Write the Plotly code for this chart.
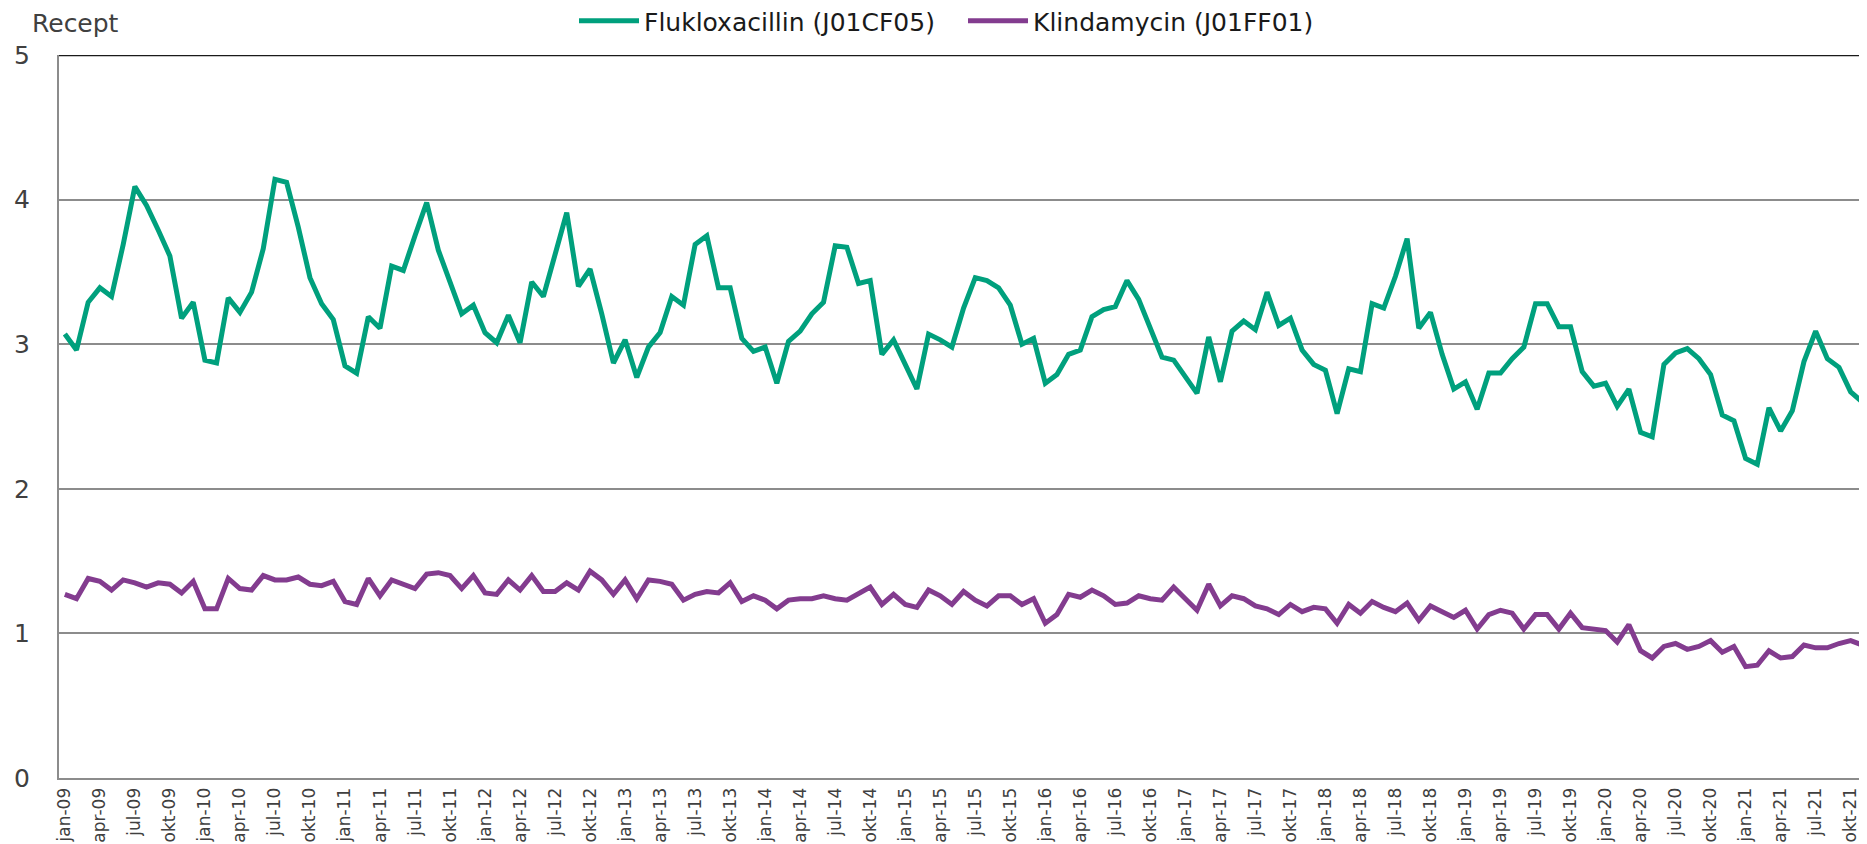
import plotly.graph_objects as go

month_names = ["jan", "feb", "mar", "apr", "maj", "jun", "jul", "aug", "sep", "okt", "nov", "dec"]
years = list(range(9, 22))
months = [f"{m}-{y:02d}" for y in years for m in month_names][:155]  # jan-09 .. nov-21

flukloxacillin = [
    3.07, 2.96, 3.29, 3.39, 3.33, 3.69, 4.09, 3.96, 3.79, 3.61, 3.18, 3.29,
    2.89, 2.87, 3.32, 3.22, 3.36, 3.66, 4.14, 4.12, 3.81, 3.46, 3.28, 3.17,
    2.85, 2.80, 3.19, 3.11, 3.54, 3.51, 3.75, 3.98, 3.65, 3.42, 3.21, 3.27,
    3.08, 3.01, 3.20, 3.01, 3.43, 3.33, 3.62, 3.91, 3.40, 3.52, 3.21, 2.87,
    3.03, 2.77, 2.98, 3.08, 3.33, 3.27, 3.69, 3.75, 3.39, 3.39, 3.04, 2.95,
    2.98, 2.73, 3.02, 3.09, 3.21, 3.29, 3.68, 3.67, 3.42, 3.44, 2.93, 3.03,
    2.86, 2.69, 3.07, 3.03, 2.98, 3.25, 3.46, 3.44, 3.39, 3.27, 3.00, 3.04,
    2.73, 2.79, 2.93, 2.96, 3.19, 3.24, 3.26, 3.44, 3.31, 3.11, 2.91, 2.89,
    2.78, 2.66, 3.05, 2.74, 3.09, 3.16, 3.10, 3.36, 3.13, 3.18, 2.96, 2.86,
    2.82, 2.52, 2.83, 2.81, 3.28, 3.25, 3.47, 3.73, 3.11, 3.22, 2.93, 2.69,
    2.74, 2.55, 2.80, 2.80, 2.90, 2.98, 3.28, 3.28, 3.12, 3.12, 2.81, 2.71,
    2.73, 2.57, 2.69, 2.39, 2.36, 2.86, 2.94, 2.97, 2.90, 2.79, 2.51, 2.47,
    2.21, 2.17, 2.56, 2.40, 2.54, 2.88, 3.09, 2.90, 2.84, 2.67, 2.60,
]

klindamycin = [
    1.27, 1.24, 1.38, 1.36, 1.30, 1.37, 1.35, 1.32, 1.35, 1.34, 1.28, 1.36,
    1.17, 1.17, 1.38, 1.31, 1.30, 1.40, 1.37, 1.37, 1.39, 1.34, 1.33, 1.36,
    1.22, 1.20, 1.38, 1.26, 1.37, 1.34, 1.31, 1.41, 1.42, 1.40, 1.31, 1.40,
    1.28, 1.27, 1.37, 1.30, 1.40, 1.29, 1.29, 1.35, 1.30, 1.43, 1.37, 1.27,
    1.37, 1.24, 1.37, 1.36, 1.34, 1.23, 1.27, 1.29, 1.28, 1.35, 1.22, 1.26,
    1.23, 1.17, 1.23, 1.24, 1.24, 1.26, 1.24, 1.23, 1.28, 1.32, 1.20, 1.27,
    1.20, 1.18, 1.30, 1.26, 1.20, 1.29, 1.23, 1.19, 1.26, 1.26, 1.20, 1.24,
    1.07, 1.13, 1.27, 1.25, 1.30, 1.26, 1.20, 1.21, 1.26, 1.24, 1.23, 1.32,
    1.24, 1.16, 1.34, 1.19, 1.26, 1.24, 1.19, 1.17, 1.13, 1.20, 1.15, 1.18,
    1.17, 1.07, 1.20, 1.14, 1.22, 1.18, 1.15, 1.21, 1.09, 1.19, 1.15, 1.11,
    1.16, 1.03, 1.13, 1.16, 1.14, 1.03, 1.13, 1.13, 1.03, 1.14, 1.04, 1.03,
    1.02, 0.94, 1.06, 0.88, 0.83, 0.91, 0.93, 0.89, 0.91, 0.95, 0.87, 0.91,
    0.77, 0.78, 0.88, 0.83, 0.84, 0.92, 0.90, 0.90, 0.93, 0.95, 0.92,
]

tick_labels = months[::3]
y_ticks = [0, 1, 2, 3, 4, 5]

FONT = "DejaVu Sans"
GREEN = "#00A07D"
PURPLE = "#833C8F"

fig = go.Figure()
fig.add_trace(go.Scatter(x=months, y=flukloxacillin, mode="lines",
                         name="Flukloxacillin (J01CF05)",
                         line=dict(color=GREEN, width=5)))
fig.add_trace(go.Scatter(x=months, y=klindamycin, mode="lines",
                         name="Klindamycin (J01FF01)",
                         line=dict(color=PURPLE, width=5)))

# page body has an 8px default margin; size the figure to fill the rest of the window
fig.update_layout(
    width=1859, height=836,
    margin=dict(l=51, r=0, t=47, b=66, autoexpand=False),
    paper_bgcolor="white", plot_bgcolor="white",
    font=dict(family=FONT, color="#404040", size=20),
    showlegend=True,
    legend=dict(orientation="h", x=0.5, xanchor="center", y=1.047, yanchor="middle",
                font=dict(family=FONT, size=25, color="#1a1a1a"),
                itemwidth=60, entrywidth=314, entrywidthmode="pixels",
                tracegroupgap=0, bgcolor="rgba(0,0,0,0)"),
    xaxis=dict(type="category", categoryorder="array", categoryarray=months,
               range=[-0.5, 154.4], tickmode="array", tickvals=tick_labels,
               ticktext=tick_labels, tickangle=-90, showgrid=False,
               showline=True, linecolor="#8C8C8C", linewidth=2,
               ticks="", ticklabelstandoff=1,
               tickfont=dict(family=FONT, size=17, color="#404040"),
               automargin=False, zeroline=False),
    yaxis=dict(range=[0, 5], tickvals=y_ticks, showgrid=True, gridcolor="#8C8C8C",
               gridwidth=1.5, showline=True, linecolor="#8C8C8C", linewidth=2,
               zeroline=False, ticks="", ticklabelstandoff=22,
               tickfont=dict(family=FONT, size=25, color="#404040"),
               automargin=False),
    annotations=[dict(text="Recept", xref="paper", yref="paper", x=-0.0155, y=1.065,
                      xanchor="left", yanchor="top", showarrow=False, borderpad=0,
                      font=dict(family=FONT, size=25, color="#404040"))],
    shapes=[dict(type="line", xref="paper", yref="y", x0=0, x1=1, y0=5, y1=5,
                 line=dict(color="#1a1a1a", width=2.5), layer="above")],
)

fig.write_html("out.html")
